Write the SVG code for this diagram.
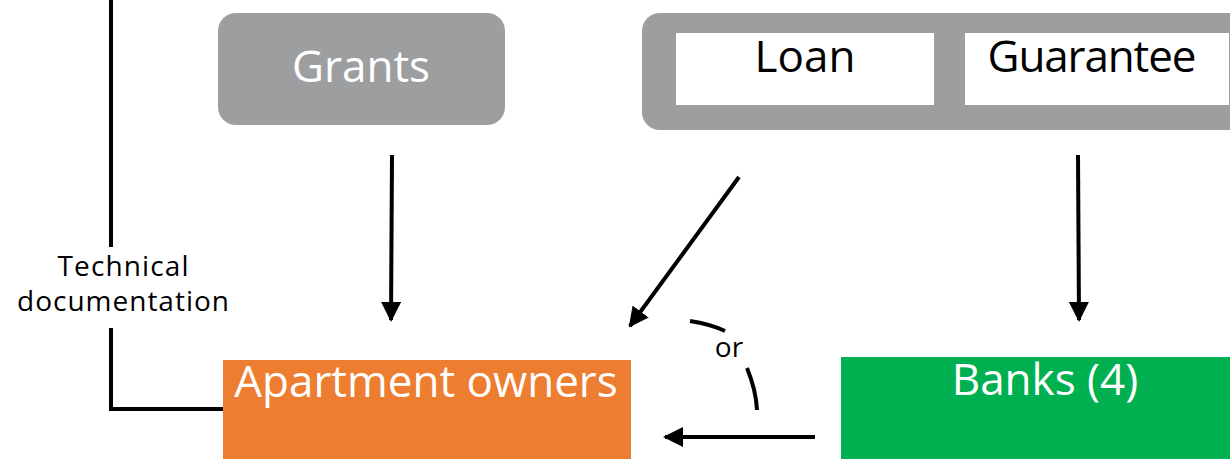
<svg xmlns="http://www.w3.org/2000/svg" width="1230" height="459" viewBox="0 0 1230 459">
<defs>
<style>
.big{font-family:"Open Sans","Noto Sans",sans-serif;font-size:44px}
.small{font-family:"Open Sans","Noto Sans",sans-serif;font-size:28px;fill:#000}
.w{fill:#fff}
.k{fill:#000}
.ln{stroke:#000;stroke-width:4;fill:none}
</style>
<marker id="ah" viewBox="0 0 10 10" refX="9" refY="5" markerWidth="5" markerHeight="5" markerUnits="strokeWidth" orient="auto">
<path d="M0,0 L10,5 L0,10 Z" fill="#000"/>
</marker>
</defs>
<g id="grants">
<rect x="218" y="13" width="287" height="112" rx="18" fill="#9d9ea0"/>
<text x="361" y="82" text-anchor="middle" class="big w">Grants</text>
</g>
<g id="loan-guarantee">
<rect x="642" y="13" width="610" height="117" rx="18" fill="#9d9ea0"/>
<rect x="676" y="33" width="258" height="72" fill="#fff"/>
<rect x="965" y="33" width="264" height="72" fill="#fff"/>
<text x="805" y="72" text-anchor="middle" class="big k">Loan</text>
<text x="1092" y="72" text-anchor="middle" class="big k" textLength="209">Guarantee</text>
</g>
<g id="apartment-owners">
<rect x="223" y="360" width="408" height="99" fill="#ed7d31"/>
<text x="426" y="397" text-anchor="middle" class="big w">Apartment owners</text>
</g>
<g id="banks">
<rect x="841" y="357" width="389" height="102" fill="#00b050"/>
<text x="1045" y="395" text-anchor="middle" class="big w">Banks (4)</text>
</g>
<g id="connectors">
<path class="ln" d="M111,0 V247"/>
<path class="ln" d="M111,328 V409 H223"/>
<text x="123" y="276" text-anchor="middle" class="small" textLength="131">Technical</text>
<text x="123" y="311" text-anchor="middle" class="small" textLength="212">documentation</text>
<path class="ln" d="M392,155 L391,320" marker-end="url(#ah)"/>
<path class="ln" d="M739,177 L630,326" marker-end="url(#ah)"/>
<path class="ln" d="M1078,155 L1079,320" marker-end="url(#ah)"/>
<path class="ln" d="M815,437 L665,437" marker-end="url(#ah)"/>
<path class="ln" d="M690,321 Q710,324 725,331"/>
<path class="ln" d="M747,368 Q756,390 757,410"/>
<text x="729" y="357" text-anchor="middle" class="small">or</text>
</g>
</svg>
